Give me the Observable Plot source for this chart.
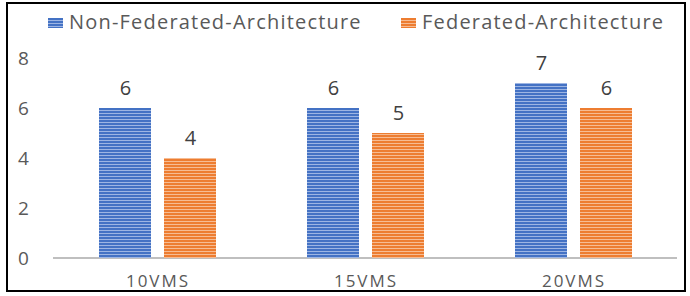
<!DOCTYPE html>
<html>
<head>
<meta charset="utf-8">
<script src="https://cdn.jsdelivr.net/npm/d3@7"></script>
<script src="https://cdn.jsdelivr.net/npm/@observablehq/plot@0.6"></script>
<style>
  html, body { margin: 0; padding: 0; background: #fff; }
  #wrap { position: relative; width: 690px; height: 296px; overflow: hidden; font-family: "Open Sans", sans-serif; }
  #frame { position: absolute; left: 6px; top: 2px; width: 680px; height: 290px; border: 2px solid #000; box-sizing: border-box; pointer-events: none; }
  #chart { position: absolute; left: 0; top: 0; }
  .leg { position: absolute; top: 8px; font-size: 20px; letter-spacing: 1.2px; color: #595959; line-height: 28px; white-space: nowrap; }
  .sw { display: inline-block; width: 15px; height: 10px; margin-right: 6px; vertical-align: 1px; }
</style>
</head>
<body>
<div id="wrap">
  <div id="chart"></div>
  <div id="legend"></div>
  <div id="frame"></div>
</div>
<script>
const categories = ["10VMS", "15VMS", "20VMS"];
const series = ["Non-Federated-Architecture", "Federated-Architecture"];
const nonFederated = [6, 6, 7];
const federated = [4, 5, 6];
const yTicks = [0, 2, 4, 6, 8];
const baseColors = ["#4472C4", "#ED7D31"];
const stripeColors = ["#9DB5E3", "#F6BC93"];

const data = categories.flatMap((c, i) => [
  {cat: c, series: series[0], value: nonFederated[i]},
  {cat: c, series: series[1], value: federated[i]}
]);

const width = 690, height = 296, marginLeft = 53, marginRight = 13;
const fxPadInner = 0.303, fxPadOuter = 0.1515;
// the left-anchored y axis lives in the first facet, which is shifted by the fx outer padding
const fxStep = (width - marginLeft - marginRight) / (categories.length - fxPadInner + 2 * fxPadOuter);
const facetShift = fxPadOuter * fxStep;

const chart = Plot.plot({
  width, height, marginLeft, marginRight,
  marginTop: 58,
  marginBottom: 38,
  style: {fontFamily: "Open Sans, sans-serif", background: "transparent", overflow: "visible"},
  fx: {domain: categories, paddingInner: fxPadInner, paddingOuter: fxPadOuter, label: null},
  x: {domain: series, padding: 0.197, axis: null},
  y: {domain: [0, 8], label: null},
  color: {domain: series, range: ["url(#pat0)", "url(#pat1)"]},
  marks: [
    Plot.axisY({ticks: yTicks, tickSize: 0, tickPadding: 25 + facetShift, fontSize: 19, fill: "#595959", label: null}),
    Plot.axisFx({anchor: "bottom", tickSize: 0, tickPadding: 16, fontSize: 17, fill: "#595959", label: null}),
    Plot.barY(data, {fx: "cat", x: "series", y: "value", fill: "series"}),
    Plot.text(data, {fx: "cat", x: "series", y: "value", text: d => String(d.value), dy: -20, fontSize: 20, fill: "#404040"})
  ]
});

const svg = d3.select(chart);
// stripe patterns
const defs = svg.insert("defs", ":first-child");
baseColors.forEach((c, i) => {
  const p = defs.append("pattern").attr("id", "pat" + i).attr("patternUnits", "userSpaceOnUse")
    .attr("width", 6).attr("height", 3);
  p.append("rect").attr("width", 6).attr("height", 3).attr("fill", c);
  p.append("rect").attr("y", 2).attr("width", 6).attr("height", 1).attr("fill", stripeColors[i]);
});
// baseline at y = 0 via the plot's y scale
const y0 = chart.scale("y").apply(0);
svg.insert("line", "defs + *")
  .attr("x1", marginLeft).attr("x2", width - marginRight)
  .attr("y1", y0).attr("y2", y0)
  .attr("stroke", "#BFBFBF").attr("stroke-width", 2);
svg.selectAll("[aria-label='fx-axis tick label']").attr("letter-spacing", 2);
document.getElementById("chart").appendChild(chart);

// legend
const legPos = [48, 401];
const legend = document.getElementById("legend");
series.forEach((s, i) => {
  const d = document.createElement("div");
  d.className = "leg";
  d.style.left = legPos[i] + "px";
  const sw = document.createElement("span");
  sw.className = "sw";
  sw.style.background = `repeating-linear-gradient(to bottom, ${baseColors[i]} 0px, ${baseColors[i]} 2px, ${stripeColors[i]} 2px, ${stripeColors[i]} 3px)`;
  d.appendChild(sw);
  d.appendChild(document.createTextNode(s));
  legend.appendChild(d);
});
</script>
</body>
</html>
